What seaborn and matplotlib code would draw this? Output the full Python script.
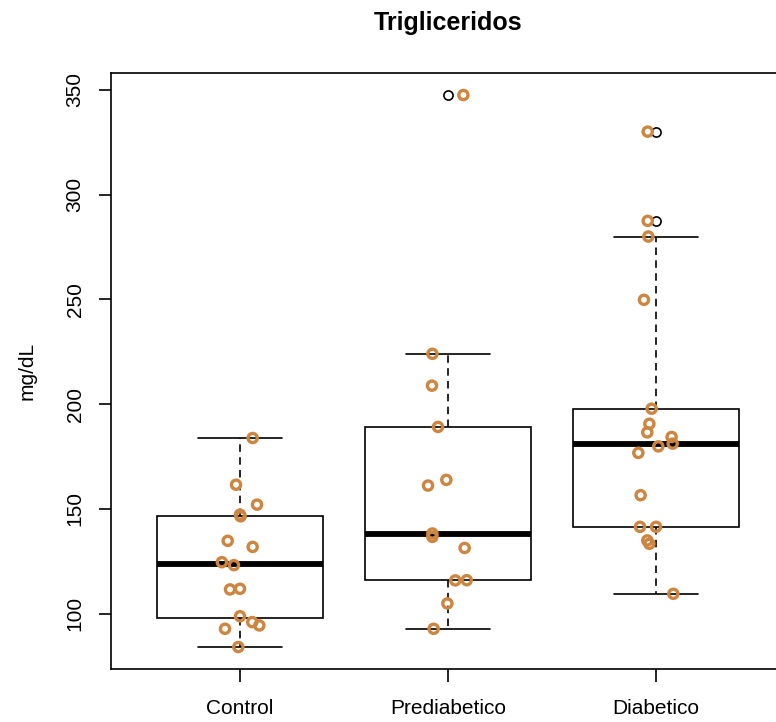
import matplotlib
matplotlib.use("Agg")
import matplotlib.pyplot as plt
import numpy as np
import pandas as pd
import seaborn as sns

# Triglyceride values (mg/dL) per group
grupos = ["Control", "Prediabetico", "Diabetico"]

control = [183.8, 161.5, 152.0, 147.2, 146.4, 134.7, 131.8, 124.5, 123.1,
           111.5, 111.8, 98.7, 95.9, 94.3, 92.7, 84.0]
prediabetico = [347.6, 224.0, 208.8, 189.1, 163.8, 161.1, 138.2, 136.6,
                131.3, 115.8, 115.9, 104.8, 92.7]
diabetico = [330.1, 287.5, 280.0, 249.8, 197.8, 190.6, 186.5, 184.3, 181.1,
             179.8, 176.7, 156.5, 141.4, 141.4, 134.9, 133.3, 109.4]

# horizontal jitter applied to each point (same order as the values)
jit_control = [0.061, -0.019, 0.082, 0.0, 0.003, -0.059, 0.061, -0.087,
               -0.029, -0.048, 0.0, 0.0, 0.059, 0.093, -0.072, -0.008]
jit_prediabetico = [0.074, -0.075, -0.077, -0.048, -0.008, -0.096, -0.075,
                    -0.075, 0.080, 0.035, 0.090, -0.003, -0.069]
jit_diabetico = [-0.040, -0.040, -0.037, -0.058, -0.021, -0.032, -0.042,
                 0.075, 0.080, 0.011, -0.085, -0.074, -0.077, 0.0, -0.042,
                 -0.032, 0.083]

valores = [control, prediabetico, diabetico]
jitters = [jit_control, jit_prediabetico, jit_diabetico]

rows = []
for i, (g, vals, jit) in enumerate(zip(grupos, valores, jitters)):
    for v, j in zip(vals, jit):
        rows.append({"grupo": g, "trig": v, "xpos": i + j})
df = pd.DataFrame(rows)

sns.set_style("white")
plt.rcParams["font.family"] = ["Liberation Sans", "DejaVu Sans"]

W, H = 776, 722
fig = plt.figure(figsize=(W / 100, H / 100), dpi=100)
ax = fig.add_axes([111 / W, (H - 669) / H, 674 / W, 596 / H])

sns.boxplot(
    data=df, x="grupo", y="trig", order=grupos, ax=ax,
    width=0.8, color="white", saturation=1, linecolor="black", linewidth=1.2,
    whiskerprops={"linestyle": (0, (4.5, 3.2))},
    medianprops={"linewidth": 4.2, "color": "black"},
    flierprops={"marker": "o", "markerfacecolor": "none",
                "markeredgecolor": "black", "markersize": 6.6,
                "markeredgewidth": 1.2},
)

sns.scatterplot(
    data=df, x="xpos", y="trig", ax=ax,
    marker="o", s=44, facecolor="none", edgecolor="#CD853F",
    linewidth=2.4, zorder=4,
)

ax.set_xlim(-0.62, 2.62)
ax.set_ylim(73.5, 358.1)
ax.set_xticks(range(len(grupos)))
ax.set_xticklabels(grupos)
ax.set_yticks([100, 150, 200, 250, 300, 350])

ax.set_xlabel("")
ax.set_ylabel("mg/dL", fontsize=15, color="black")
ax.yaxis.set_label_coords((37 - 111) / 674, 0.5)
ax.set_title("Trigliceridos", fontsize=18, fontweight="bold", pad=31,
             color="black")

for s in ax.spines.values():
    s.set_visible(True)
    s.set_color("black")
    s.set_linewidth(1.2)

ax.tick_params(axis="both", direction="out", length=9, width=1.2,
               color="black", labelsize=15, labelcolor="black",
               left=True, bottom=True)
ax.tick_params(axis="x", pad=12.5)
ax.tick_params(axis="y", pad=10, labelrotation=90)
for lab in ax.get_yticklabels():
    lab.set_va("center")

fig.savefig("out.png", dpi=100, facecolor="white")
